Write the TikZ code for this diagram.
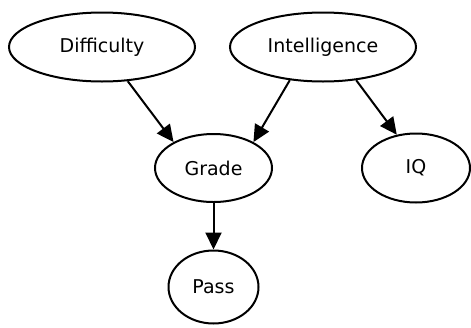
\documentclass[tikz,border=0pt]{standalone}
\usepackage{fontspec}
\setmainfont{DejaVu Sans}
\usetikzlibrary{shapes.geometric,arrows.meta}
\begin{document}
\begin{tikzpicture}[x=1pt,y=-1pt,
  var/.style={ellipse,draw,line width=2pt,inner sep=0pt,font=\fontsize{19}{22}\selectfont},
  edge/.style={line width=2pt,-{Triangle[length=17pt,width=16pt]}}]
\useasboundingbox (0,0) rectangle (471,327);
\node[var,minimum width=186pt,minimum height=69pt] (D) at (102,47) {Difficulty};
\node[var,minimum width=186pt,minimum height=69pt] (I) at (323,47) {Intelligence};
\node[var,minimum width=117pt,minimum height=68pt] (G) at (213.5,168) {Grade};
\node[var,minimum width=108pt,minimum height=69pt] (Q) at (416,168) {IQ};
\node[var,minimum width=90pt,minimum height=73pt] (P) at (213.5,287) {Pass};
\draw[edge] (D.-53) -- (G.147);
\draw[edge] (I.-135) -- (G.33);
\draw[edge] (I.-45) -- (Q.120);
\draw[edge] (G) -- (P);
\end{tikzpicture}
\end{document}
